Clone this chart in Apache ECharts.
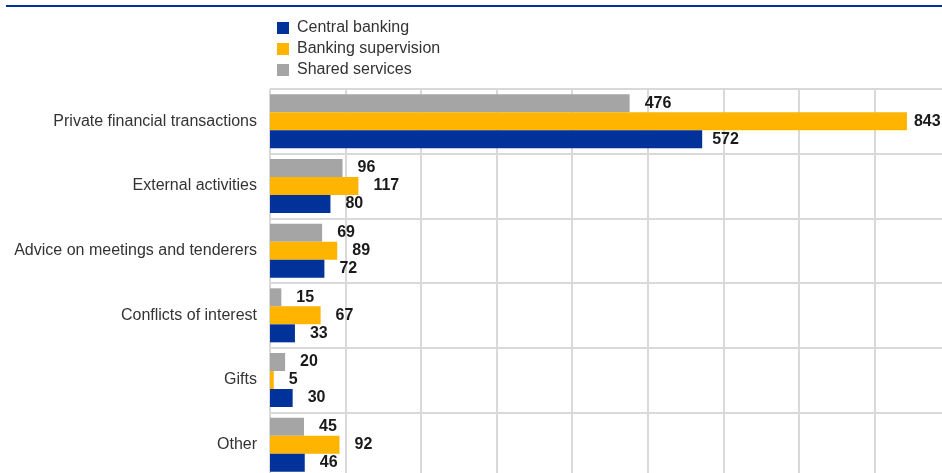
<!DOCTYPE html>
<html>
<head>
<meta charset="utf-8">
<script src="https://cdn.jsdelivr.net/npm/echarts@6/dist/echarts.min.js"></script>
<style>html,body{margin:0;padding:0;background:#fff;overflow:hidden;}#c{width:950px;height:477px;}</style>
</head>
<body>
<div id="c"></div>
<script>
var categories = ['Private financial transactions','External activities','Advice on meetings and tenderers','Conflicts of interest','Gifts','Other'];
var centralBanking = [572, 80, 72, 33, 30, 46];
var bankingSupervision = [843, 117, 89, 67, 5, 92];
var sharedServices = [476, 96, 69, 15, 20, 45];
var legendNames = ['Central banking','Banking supervision','Shared services'];

var labelFont = {fontFamily:'"Liberation Sans Narrow","Liberation Sans",Arial,sans-serif', fontWeight:'bold', fontSize:16, color:'#1a1a1a'};
function mk(vals, special){
  return vals.map(function(v,i){
    var d = {value:v};
    if (special && special[i] != null) d.label = {distance: special[i]};
    return d;
  });
}
function series(name, color, vals, special){
  return {
    name:name, type:'bar', barWidth:18, barGap:'0%',
    itemStyle:{color:color},
    label:Object.assign({show:true, position:'right', distance:15}, labelFont),
    data:mk(vals, special)
  };
}
var chart = echarts.init(document.getElementById('c'));
chart.setOption({
  animation:false,
  graphic:[{type:'line', shape:{x1:6,y1:6,x2:942,y2:6}, style:{stroke:'#003299', lineWidth:2}}],
  legend:{
    data:legendNames, orient:'vertical', left:272, top:15, itemWidth:12, itemHeight:12, itemGap:5,
    icon:'rect',
    textStyle:{fontFamily:'"Liberation Sans",Arial,sans-serif', fontSize:16, color:'#333', padding:[0,0,0,3]}
  },
  grid:{left:270, right:0, top:89, bottom:0, containLabel:false},
  xAxis:{type:'value', min:0, max:900, interval:100,
    axisLabel:{show:false}, axisLine:{show:false}, axisTick:{show:false},
    splitLine:{show:true, lineStyle:{color:'#d9d9d9', width:2}}},
  yAxis:{type:'category', data:categories, inverse:true,
    axisLine:{show:false}, axisTick:{show:false},
    splitLine:{show:true, lineStyle:{color:'#d9d9d9', width:2}},
    axisLabel:{fontFamily:'"Liberation Sans",Arial,sans-serif', fontSize:16, color:'#333', margin:13}},
  series:[
    series('Shared services','#A5A5A5', sharedServices),
    series('Banking supervision','#FFB400', bankingSupervision, [7]),
    series('Central banking','#003299', centralBanking, [10])
  ]
});
</script>
</body>
</html>
